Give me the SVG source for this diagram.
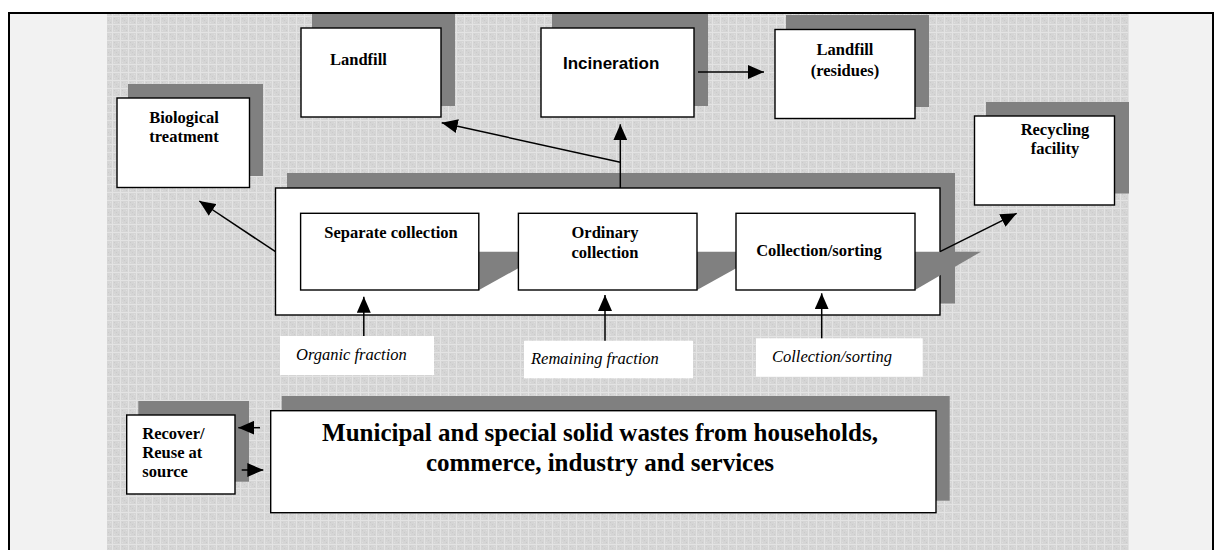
<svg xmlns="http://www.w3.org/2000/svg" width="1215" height="550" viewBox="0 0 1215 550">
<defs>
<pattern id="grid" width="8" height="8" patternUnits="userSpaceOnUse">
<rect width="8" height="8" fill="#d5d5d5"/>
<rect x="0" y="0" width="8" height="1" fill="#e3e3e3"/>
<rect x="0" y="0" width="1" height="8" fill="#e3e3e3"/>
<rect x="2" y="2" width="1" height="1" fill="#cacaca"/>
<rect x="4" y="4" width="1" height="1" fill="#cacaca"/>
<rect x="6" y="6" width="1" height="1" fill="#cacaca"/>
<rect x="2" y="6" width="1" height="1" fill="#dedede"/>
<rect x="6" y="2" width="1" height="1" fill="#dedede"/>
</pattern>
<marker id="ah" markerUnits="userSpaceOnUse" markerWidth="16" markerHeight="14" refX="16" refY="7" orient="auto">
<path d="M0,0 L16,7 L0,14 Z" fill="#000"/>
</marker>
</defs>
<style>
.box{fill:#fff;stroke:#000;stroke-width:1.4}
.sh{fill:#808080}
.lb{fill:#fff}
.t{font-family:"Liberation Serif","Times New Roman",serif;font-weight:bold;font-size:16.5px;fill:#000}
.ts{font-family:"Liberation Sans",Arial,sans-serif;font-weight:bold;font-size:17px;fill:#000}
.ti{font-family:"Liberation Serif","Times New Roman",serif;font-style:italic;font-size:16.5px;fill:#000}
.big{font-family:"Liberation Serif","Times New Roman",serif;font-weight:bold;font-size:25px;fill:#000}
.c{stroke:#000;stroke-width:1.5;fill:none}
.m{text-anchor:middle}
</style>
<rect x="0" y="0" width="1215" height="550" fill="#fff"/>
<rect x="9" y="13" width="1204" height="560" fill="#f2f2f2" stroke="#000" stroke-width="2"/>
<rect x="107" y="14" width="1022" height="536" fill="url(#grid)"/>

<g id="landfill">
<rect class="sh" x="312" y="14" width="143" height="92"/>
<rect class="box" x="301" y="28" width="140" height="89"/>
<text class="t" x="330" y="65">Landfill</text>
</g>
<g id="incineration">
<rect class="sh" x="552" y="14" width="156" height="92"/>
<rect class="box" x="541" y="28" width="153" height="89"/>
<text class="ts" x="563" y="69">Incineration</text>
</g>
<g id="landfill-residues">
<rect class="sh" x="786" y="15" width="143" height="92"/>
<rect class="box" x="775" y="29.5" width="140" height="89"/>
<text class="t m" x="845" y="55">Landfill</text>
<text class="t m" x="845" y="76">(residues)</text>
</g>
<g id="biological">
<rect class="sh" x="128" y="84" width="135" height="92"/>
<rect class="box" x="117" y="98" width="132.5" height="89.5"/>
<text class="t m" x="184" y="123">Biological</text>
<text class="t m" x="184" y="142">treatment</text>
</g>
<g id="recycling">
<rect class="sh" x="986" y="102" width="143" height="91.5"/>
<rect class="box" x="974.5" y="116" width="140" height="89"/>
<text class="t m" x="1055" y="135">Recycling</text>
<text class="t m" x="1055" y="154">facility</text>
</g>

<g id="collection-container">
<rect class="sh" x="287" y="173" width="668" height="130.5"/>
<rect class="box" x="275.5" y="188" width="664.5" height="127"/>
</g>
<g id="separate-collection">
<polygon class="sh" points="479,251.7 548,251.7 479,290"/>
<rect class="box" x="300.6" y="213.3" width="178.2" height="76.7"/>
<text class="t m" x="391" y="238.3">Separate collection</text>
</g>
<g id="ordinary-collection">
<polygon class="sh" points="697,251.7 766,251.7 697,290"/>
<rect class="box" x="518.4" y="213.3" width="178.6" height="76.7"/>
<text class="t m" x="605" y="238.3">Ordinary</text>
<text class="t m" x="605" y="257.5">collection</text>
</g>
<g id="collection-sorting">
<polygon class="sh" points="915,251.7 981,251.7 915,290"/>
<rect class="box" x="736" y="213.3" width="179" height="76.7"/>
<text class="t m" x="819" y="256">Collection/sorting</text>
</g>

<g id="label-organic">
<rect class="lb" x="280" y="336" width="154" height="39"/>
<text class="ti" x="296" y="359.5">Organic fraction</text>
</g>
<g id="label-remaining">
<rect class="lb" x="524" y="340.7" width="169" height="37.6"/>
<text class="ti" x="531" y="363.5">Remaining fraction</text>
</g>
<g id="label-sorting">
<rect class="lb" x="756" y="338.3" width="166.7" height="38.4"/>
<text class="ti" x="772" y="361.7">Collection/sorting</text>
</g>

<g id="recover">
<rect class="sh" x="138.3" y="401" width="110.7" height="80.7"/>
<rect class="box" x="126.7" y="415" width="108.3" height="79"/>
<text class="t" x="142.3" y="439">Recover/</text>
<text class="t" x="142.3" y="457.7">Reuse at</text>
<text class="t" x="142.3" y="476.7">source</text>
</g>
<g id="municipal">
<rect class="sh" x="281.7" y="396" width="668" height="104.7"/>
<rect class="box" x="270.7" y="410.7" width="665.3" height="102"/>
<text class="big m" x="600" y="441">Municipal and special solid wastes from households,</text>
<text class="big m" x="600" y="471">commerce, industry and services</text>
</g>

<g id="connectors">
<line class="c" x1="698" y1="72" x2="764" y2="72" marker-end="url(#ah)"/>
<line class="c" x1="620.3" y1="188" x2="620.3" y2="124.3" marker-end="url(#ah)"/>
<line class="c" x1="620.3" y1="162.3" x2="441.7" y2="122.7" marker-end="url(#ah)"/>
<line class="c" x1="275.5" y1="251.7" x2="199.3" y2="201" marker-end="url(#ah)"/>
<line class="c" x1="940" y1="251.7" x2="1016.7" y2="213.3" marker-end="url(#ah)"/>
<line class="c" x1="363.8" y1="336" x2="363.8" y2="296.7" marker-end="url(#ah)"/>
<line class="c" x1="605" y1="340.7" x2="605" y2="295" marker-end="url(#ah)"/>
<line class="c" x1="821.7" y1="338.3" x2="821.7" y2="293.3" marker-end="url(#ah)"/>
<line class="c" x1="260" y1="427.7" x2="238.3" y2="427.7" marker-end="url(#ah)"/>
<line class="c" x1="241.7" y1="470" x2="263.3" y2="470" marker-end="url(#ah)"/>
</g>
</svg>
